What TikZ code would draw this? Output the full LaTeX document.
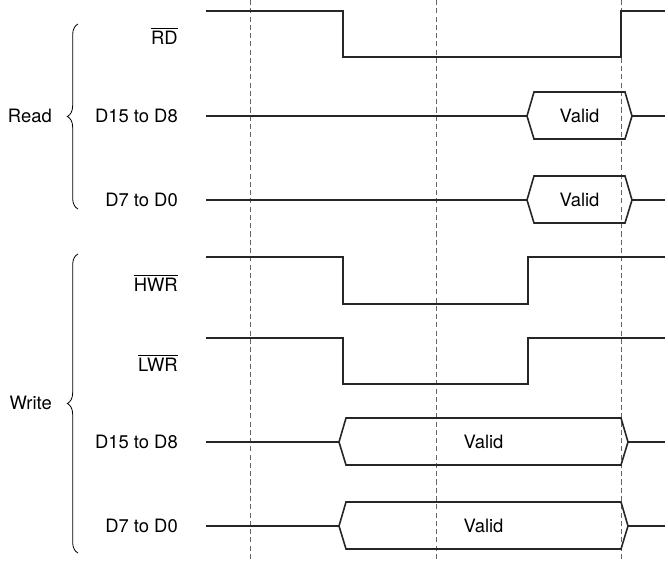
\documentclass[tikz,border=0pt]{standalone}
\usepackage{fontspec}
\setmainfont{TeX Gyre Heros}
\usetikzlibrary{decorations.pathreplacing}
\newcommand{\sigbar}[1]{$\overline{\hbox{#1}}$}
\begin{document}
\begin{tikzpicture}[
            x=0.75pt,y=-0.75pt,
            sig/.style={line width=1.2pt,black!85,line join=miter},
            guide/.style={gray!80!black,line width=0.6pt,dash pattern=on 3.8pt off 2.4pt},
            lbl/.style={anchor=east,inner sep=0pt,font=\fontsize{13.8}{16}\selectfont},
            val/.style={inner sep=0pt,font=\fontsize{13.8}{16}\selectfont},
            grp/.style={decorate,decoration={brace,amplitude=8pt},line width=0.6pt}
        ]
    \useasboundingbox (0,0) rectangle (668,568);
    % Guides
        \foreach\x in {250,436,621}{
            \draw[guide] (\x,0) -- (\x,562);
        }
    % Strobes
        \draw[sig] (206,11) -- (343,11) -- (343,57) -- (621,57) -- (621,11) -- (665,11);
        \draw[sig] (206,257) -- (343,257) -- (343,304) -- (528,304) -- (528,257) -- (665,257);
        \draw[sig] (206,338) -- (343,338) -- (343,384) -- (528,384) -- (528,338) -- (665,338);
    % Data
    \foreach\y/\a/\b/\n in {116/527/632/rh,200/527/632/rl,442/339/628/wh,526/339/628/wl}{
        \draw[sig] (206,\y) -- (\a,\y);
        \draw[sig] (\a,\y) -- (\a+7,\y-24) -- (\b-7,\y-24) -- (\b,\y)
            -- (\b-7,\y+23) -- (\a+7,\y+23) -- cycle;
        \draw[sig] (\b,\y) -- (665,\y);
        \node[val] (v\n) at ({(\a+\b)/2},\y) {Valid};
    }
    % Labels
        \node[lbl] (rd) at (178,36) {\sigbar{RD}};
        \node[lbl] (rdh) at (178,116) {D15 to D8};
        \node[lbl] (rdl) at (178,200) {D7 to D0};
        \node[lbl] (hwr) at (178,283) {\sigbar{HWR}};
        \node[lbl] (lwr) at (178,363) {\sigbar{LWR}};
        \node[lbl] (wrh) at (178,442) {D15 to D8};
        \node[lbl] (wrl) at (178,526) {D7 to D0};
    % Groups
        \draw[grp] (78,209) -- (78,24);
        \draw[grp] (78,553) -- (78,254);
        \node[lbl] (read) at (52,116) {Read};
        \node[lbl] (write) at (52,403) {Write};
    \end{tikzpicture}
\end{document}
